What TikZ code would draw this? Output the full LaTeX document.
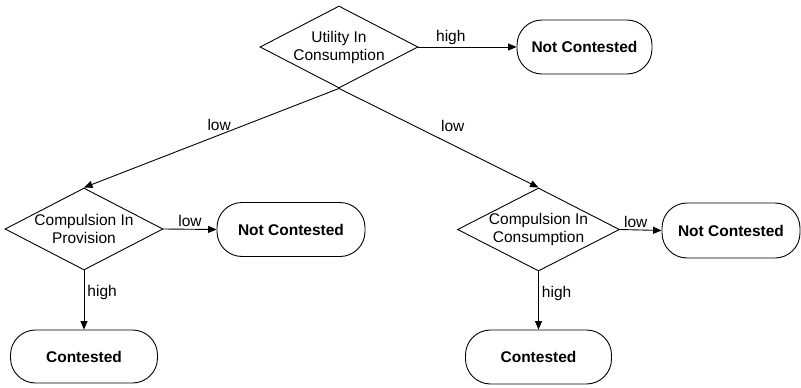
\documentclass[tikz,border=0pt]{standalone}
\usepackage{fontspec}
\setmainfont{Liberation Sans}
\usetikzlibrary{arrows.meta,shapes.geometric}
\tikzset{
  every picture/.style={x=1pt,y=-1pt},
  base/.style={line width=0.9pt},
  decision/.style={base,draw,diamond,inner sep=0pt,anchor=center},
  dtext/.style={align=center,font=\fontsize{15.5}{18}\selectfont,inner sep=0pt},
  terminal/.style={base,draw,rectangle,rounded corners=25pt,minimum height=54pt,
    font=\bfseries\fontsize{15.5}{18}\selectfont,inner sep=0pt},
  conn/.style={base,-{Triangle[length=8.5pt,width=7pt]}},
  lbl/.style={font=\fontsize{15.5}{18}\selectfont,inner sep=1pt}
}
\begin{document}
\begin{tikzpicture}
\useasboundingbox (0,0) rectangle (801,388);
% decisions
\node[decision,minimum width=158pt,minimum height=82pt] (top) at (339,47) {};
\node[dtext] (topt) at (top.center) {Utility In\\Consumption};
\node[decision,minimum width=158pt,minimum height=82pt] (left) at (84,229) {};
\node[dtext] (leftt) at (left.center) {Compulsion In\\Provision};
\node[decision,minimum width=162pt,minimum height=83pt] (right) at (538.5,229.5) {};
\node[dtext] (rightt) at (right.center) {Compulsion In\\Consumption};
% terminals
\node[terminal,minimum width=135pt] (nctop) at (584.5,47) {Not Contested};
\node[terminal,minimum width=148pt] (ncl) at (291,229.5) {Not Contested};
\node[terminal,minimum width=138pt,minimum height=55pt] (ncr) at (731,230.5) {Not Contested};
\node[terminal,minimum width=147pt,minimum height=53pt] (cl) at (84,356.5) {Contested};
\node[terminal,minimum width=146pt] (cr) at (538.5,357) {Contested};
% connectors
\draw[conn] (top.east) -- node[lbl,pos=0.33,above=1pt] {high} (nctop.west);
\draw[conn] (top.south) -- node[lbl,pos=0.47,above=3pt] {low} (left.north);
\draw[conn] (top.south) -- node[lbl,pos=0.57,above=12pt] {low} (right.north);
\draw[conn] (left.east) -- node[lbl,pos=0.5,above=1pt] {low} (ncl.west);
\draw[conn] (left.south) -- node[lbl,pos=0.38,right=2pt] {high} (cl.north);
\draw[conn] (right.east) -- node[lbl,pos=0.38,above=1pt] {low} (ncr.west);
\draw[conn] (right.south) -- node[lbl,pos=0.38,right=2pt] {high} (cr.north);
\end{tikzpicture}
\end{document}
